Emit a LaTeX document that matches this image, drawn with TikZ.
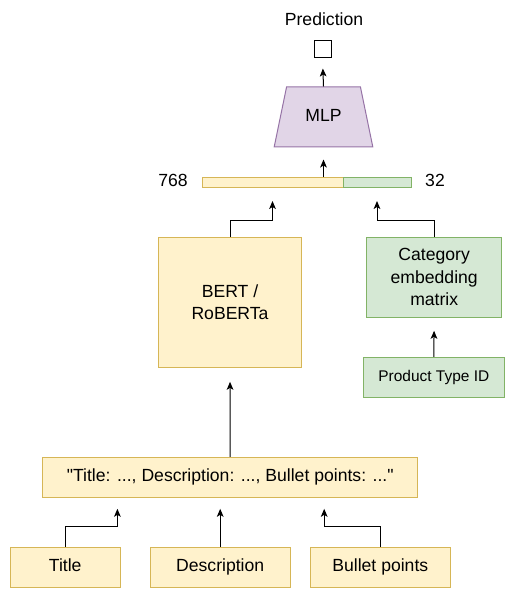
\documentclass[tikz,border=0pt]{standalone}
\usepackage{fontspec}
\setmainfont{Liberation Sans}
\usetikzlibrary{shapes.geometric,arrows.meta,calc}

\definecolor{yfill}{HTML}{FFF2CC}
\definecolor{ydraw}{HTML}{D6B656}
\definecolor{gfill}{HTML}{D5E8D4}
\definecolor{gdraw}{HTML}{82B366}
\definecolor{pfill}{HTML}{E1D5E7}
\definecolor{pdraw}{HTML}{9673A6}

\tikzset{
  txt/.style={inner sep=0pt, align=center, font=\fontsize{13.2}{16.8}\selectfont},
  oneline/.style={text height=9.5pt, text depth=2.6pt},
  ybox/.style={txt, draw=ydraw, fill=yfill, line width=0.75pt},
  gbox/.style={txt, draw=gdraw, fill=gfill, line width=0.75pt},
  arr/.style={-{Stealth[length=6pt,width=5pt,inset=1.5pt]}, line width=0.75pt, black},
}

\begin{document}
\begin{tikzpicture}[x=0.75pt,y=0.75pt,yscale=-1,xscale=1]
\useasboundingbox (0,0) rectangle (515,599);

% output
\node[txt, oneline] (predlabel) at (324,21) {Prediction};
\node[draw, line width=0.75pt, minimum width=12.75pt, minimum height=12.75pt, inner sep=0pt] (predbox) at (322.5,49.5) {};

% MLP
\node[txt, oneline, trapezium, trapezium angle=69.4, trapezium stretches=true, draw=pdraw, fill=pfill, line width=0.75pt,
      minimum width=74.25pt, minimum height=45pt] (mlp) at (323.5,117) {MLP};

% concatenated vector
\node[ybox, minimum width=105.75pt, minimum height=7.5pt] (barA) at (272.5,182.5) {};
\node[gbox, minimum width=51pt, minimum height=7.5pt] (barB) at (377,182.5) {};
\node[txt, oneline] (dimA) at (173,182) {768};
\node[txt, oneline] (dimB) at (435,182) {32};

% encoders
\node[ybox, minimum width=107.25pt, minimum height=97.5pt] (bert) at (230,302.3) {BERT /\\RoBERTa};
\node[gbox, minimum width=101.25pt, minimum height=60pt] (cat) at (434.2,277.3) {Category\\embedding\\matrix};
\node[gbox, minimum width=105.75pt, minimum height=30pt, font=\fontsize{11.6}{14}\selectfont,
      text height=8.35pt, text depth=2.3pt] (prod) at (433.8,377.3) {Product Type ID};

% text input
\node[ybox, oneline, minimum width=281.25pt, minimum height=30pt] (concat) at (230.2,477.3)
  {\textquotedbl Title: ..., Description: ..., Bullet points: ...\textquotedbl};
\node[ybox, oneline, minimum width=82.5pt, minimum height=30pt] (title) at (65.2,567.3) {Title};
\node[ybox, oneline, minimum width=105pt, minimum height=30pt] (desc) at (220.2,567.3) {Description};
\node[ybox, oneline, minimum width=105pt, minimum height=30pt] (bullet) at (380.3,567.3) {Bullet points};

% connectors
\draw[arr, shorten >=7.5pt] (mlp.north) -- (predbox.south);
\draw[arr, shorten >=9pt] (barA.north -| mlp.south) -- (mlp.south);
\draw[arr, shorten >=9.75pt] (bert.north) -- ++(0,-16.6) -| (barA.south);
\draw[arr, shorten >=9.75pt] (cat.north) -- ++(0,-16.6) -| (barB.south);
\draw[arr, shorten >=9.75pt] (prod.north) -- (cat.south);
\draw[arr, shorten >=10.5pt] (concat.north) -- (bert.south);
\draw[arr, shorten >=8.25pt] (title.north) -- ++(0,-20) -| ($(concat.south west)!0.2!(concat.south east)$);
\draw[arr, shorten >=8.25pt] (desc.north) -- (desc.north |- concat.south);
\draw[arr, shorten >=8.25pt] (bullet.north) -- ++(0,-20) -| ($(concat.south west)!0.75!(concat.south east)$);

\end{tikzpicture}
\end{document}
